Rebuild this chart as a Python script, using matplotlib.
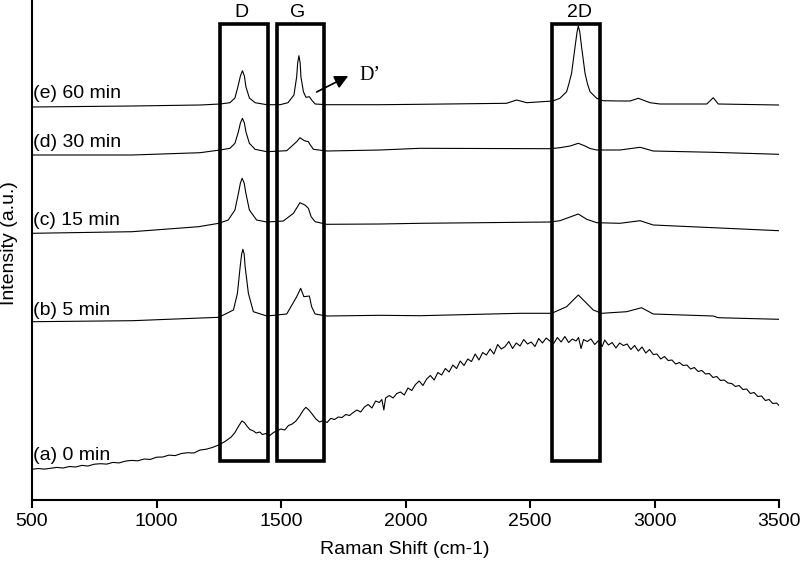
import matplotlib
matplotlib.use("Agg")
import matplotlib.pyplot as plt
from matplotlib.patches import Rectangle

# ---------------- data ----------------
labels = ["(a) 0 min", "(b) 5 min", "(c) 15 min", "(d) 30 min", "(e) 60 min"]
label_y = [45, 190, 280, 358, 407]

wn_e = [500, 902, 1175, 1255, 1295, 1315, 1327, 1337, 1345, 1353, 1359, 1373, 1396, 1443,
        1496, 1528, 1552, 1563, 1567, 1572, 1577, 1580, 1590, 1600, 1614, 1623, 1637, 1684, 1898, 2058,
        2406, 2446, 2487, 2592, 2620, 2647, 2656, 2667, 2674, 2681, 2689, 2694, 2700, 2707,
        2714, 2721, 2731, 2741, 2768, 2793, 2861, 2902, 2935, 2982, 3022, 3210, 3236, 3256, 3500]
int_e = [393, 394, 395, 396, 397.3, 402, 413.3, 424, 429.3, 424, 413.3, 402, 397.3, 395.3,
         395.3, 397.3, 405, 423.3, 437, 444.3, 437, 423.3, 408.3, 402.7, 403.3, 400, 396, 395.3, 395.3, 395.7,
         396.7, 400, 397.3, 399, 401.7, 408.3, 416, 426.7, 440, 453.3, 468, 474, 468, 453.3,
         440, 426.7, 416, 408.3, 401.7, 399.3, 399, 399, 401.7, 397.3, 396, 396, 402.3, 396, 395]

wn_d = [500, 902, 1175, 1255, 1295, 1315, 1329, 1337, 1345, 1353, 1359, 1373, 1396, 1443,
        1523, 1563, 1576, 1594, 1610, 1616, 1630, 1684, 1898, 2058, 2580, 2620, 2661, 2694,
        2721, 2741, 2768, 2861, 2942, 2995, 3235, 3500]
int_d = [345, 345, 347.3, 350, 351.7, 356.7, 368.3, 377, 381.7, 377, 368.3, 356.7, 350.7, 348.3,
         349.3, 358.3, 362.3, 359.3, 358.3, 355.7, 350.7, 349, 350, 351.7, 351.3, 352.3, 354, 356.7,
         354, 351.5, 350, 350, 352.7, 349, 347.7, 345.7]

wn_c = [500, 902, 1169, 1250, 1288, 1315, 1329, 1337, 1344, 1352, 1359, 1373, 1402, 1443,
        1509, 1550, 1576, 1596, 1610, 1621, 1637, 1684, 1898, 2058, 2580, 2620, 2694, 2728,
        2768, 2861, 2942, 2995, 3236, 3500]
int_c = [266.7, 268.3, 273.3, 276.7, 280, 290, 306.7, 317, 321.7, 317, 306.7, 290, 280, 278,
         279, 286.7, 297.3, 295, 291.7, 283.3, 278.3, 275.7, 276, 276.7, 278, 279.3, 286, 280.7,
         277.3, 276.7, 279.3, 275, 272.3, 269.3]

wn_b = [500, 902, 1250, 1309, 1325, 1336, 1342, 1347, 1352, 1356, 1369, 1389, 1443, 1523, 1563, 1579,
        1592, 1614, 1623, 1637, 1684, 1898, 2058, 2460, 2587, 2647, 2694, 2721, 2754, 2788,
        2888, 2948, 2995, 3236, 3256, 3500]
int_b = [178.3, 179.3, 182.7, 190, 206.7, 233.3, 246, 250.7, 246, 233.3, 206.7, 188.3, 184, 186, 203.3, 211.7,
         203.3, 204, 193.3, 186, 184, 184.7, 184.3, 186.7, 186.7, 193.3, 205, 198.3, 190, 186.7,
         188.3, 192.3, 186, 184, 182.3, 180.7]

wn_a = [500, 525, 550, 575, 600, 625, 650, 675, 700, 725, 750, 775, 800, 825, 850, 875, 900,
        925, 950, 975, 1000, 1025, 1050, 1075, 1100, 1125, 1150, 1175, 1200, 1225, 1250, 1275,
        1300, 1315, 1330, 1343, 1353, 1363, 1375, 1390, 1400, 1415, 1425, 1440, 1455, 1470,
        1485, 1500, 1515, 1530, 1545, 1560, 1575, 1590, 1600, 1612, 1625, 1640, 1655, 1670,
        1685, 1700, 1715, 1730, 1745, 1760, 1775, 1790, 1805, 1820, 1835, 1850, 1865, 1880,
        1895, 1905, 1913, 1920, 1935, 1950, 1965, 1980, 1995, 2010, 2025, 2040, 2055, 2070,
        2085, 2100, 2115, 2130, 2145, 2160, 2175, 2190, 2205, 2220, 2235, 2250, 2265, 2280,
        2295, 2310, 2325, 2340, 2355, 2370, 2385, 2400, 2415, 2430, 2445, 2460, 2475, 2490,
        2505, 2520, 2535, 2550, 2565, 2580, 2595, 2610, 2625, 2640, 2655, 2670, 2685, 2695,
        2705, 2715, 2730, 2745, 2760, 2775, 2790, 2800, 2815, 2830, 2845, 2860, 2875, 2890,
        2905, 2920, 2935, 2950, 2965, 2980, 2995, 3010, 3025, 3040, 3055, 3070, 3085, 3100,
        3115, 3130, 3145, 3160, 3175, 3190, 3205, 3220, 3235, 3250, 3265, 3280, 3295, 3310,
        3325, 3340, 3355, 3370, 3385, 3400, 3415, 3430, 3445, 3460, 3475, 3490, 3500]
int_a = [30.7, 31.5, 30.9, 31.8, 32.6, 32.0, 33.5, 33.0, 34.6, 34.0, 35.8, 36.3, 35.9, 37.6,
         37.1, 38.9, 39.6, 39.2, 41.0, 40.6, 42.8, 43.0, 44.9, 44.4, 46.5, 47.3, 47.0, 50.0,
         50.8, 52.6, 55.0, 58.5, 63.0, 67.5, 74.0, 79.0, 77.5, 74.0, 70.5, 69.0, 67.0, 68.0,
         65.5, 66.5, 64.5, 67.5, 69.5, 71.0, 70.0, 74.5, 76.0, 79.0, 84.0, 90.0, 92.7, 90.0,
         86.0, 81.0, 78.0, 79.5, 77.5, 81.7, 80.5, 83.0, 82.5, 85.5, 84.5, 87.5, 90.0, 88.0,
         93.0, 95.5, 92.0, 99.0, 97.5, 100.5, 90.0, 102.0, 104.5, 102.0, 106.5, 108.0, 105.0,
         112.0, 109.5, 115.5, 119.0, 114.5, 121.0, 124.5, 120.0, 127.5, 125.0, 131.5, 128.0,
         135.0, 131.5, 139.0, 134.5, 141.0, 138.5, 146.0, 140.0, 147.5, 145.0, 151.0, 146.0,
         155.5, 151.0, 153.5, 158.5, 151.5, 157.0, 154.0, 160.5, 156.0, 158.0, 153.5, 161.5,
         157.0, 162.0, 159.0, 156.5, 162.5, 158.0, 163.5, 157.5, 161.0, 159.0, 162.5, 151.5,
         160.5, 158.5, 161.0, 155.5, 159.5, 153.5, 160.0, 155.0, 157.5, 152.0, 157.0, 154.5,
         156.0, 150.5, 154.5, 149.0, 153.0, 147.0, 150.5, 145.5, 146.0, 141.0, 143.5, 139.5,
         140.0, 136.0, 137.5, 134.5, 135.0, 131.0, 132.5, 128.5, 129.5, 126.0, 126.5, 122.5,
         123.5, 119.5, 120.0, 117.0, 116.5, 113.5, 114.5, 110.5, 111.0, 106.5, 107.5, 103.5,
         104.0, 99.5, 100.5, 96.5, 97.0, 94.5]

band_names = ["D", "G", "2D"]
band_lo = [1255, 1485, 2590]
band_hi = [1447, 1673, 2781]
band_label_x = [1343, 1567, 2697]

xticks = [500, 1000, 1500, 2000, 2500, 3000, 3500]

# ---------------- plot ----------------
plt.rcParams['font.family'] = ['Liberation Sans', 'DejaVu Sans']

fig = plt.figure(figsize=(8, 5.62), dpi=100)
ax = fig.add_axes([0.04, 0.1103, 0.93375, 0.8897])

for wn, it in [(wn_a, int_a), (wn_b, int_b), (wn_c, int_c), (wn_d, int_d), (wn_e, int_e)]:
    ax.plot(wn, it, color='black', lw=0.8)

for lab, ly in zip(labels, label_y):
    ax.text(504, ly, lab, ha='left', va='center', fontsize=14)

box_bottom, box_top = 39, 476
for name, lo, hi, lx in zip(band_names, band_lo, band_hi, band_label_x):
    ax.add_patch(Rectangle((lo, box_bottom), hi - lo, box_top - box_bottom,
                           fill=False, edgecolor='black', lw=2.6, joinstyle='miter'))
    ax.text(lx, 488, name, ha='center', va='center', fontsize=14)

ax.annotate('', xy=(1770, 424), xytext=(1643, 408),
            arrowprops=dict(arrowstyle='-|>,head_length=0.8,head_width=0.4',
                            color='black', lw=1.2, mutation_scale=10,
                            shrinkA=0, shrinkB=0))
ax.text(1817, 425, "D\u2019", ha='left', va='center', fontsize=14.5,
        family=['Liberation Serif', 'DejaVu Serif'])

ax.set_xlim(500, 3500)
ax.set_ylim(0, 500)
ax.set_xticks(xticks)
ax.set_yticks([])
ax.spines['top'].set_visible(False)
ax.spines['right'].set_visible(False)
ax.spines['left'].set_linewidth(1.5)
ax.spines['bottom'].set_linewidth(1.5)
ax.tick_params(axis='x', direction='out', length=6, width=1.5, pad=3, labelsize=14)

fig.text(0.506, 0.0231, "Raman Shift (cm-1)", ha='center', va='center', fontsize=14)
fig.text(0.0125, 0.5676, "Intensity (a.u.)", ha='center', va='center', rotation=90, fontsize=14)

fig.savefig("out.png", dpi=100)
